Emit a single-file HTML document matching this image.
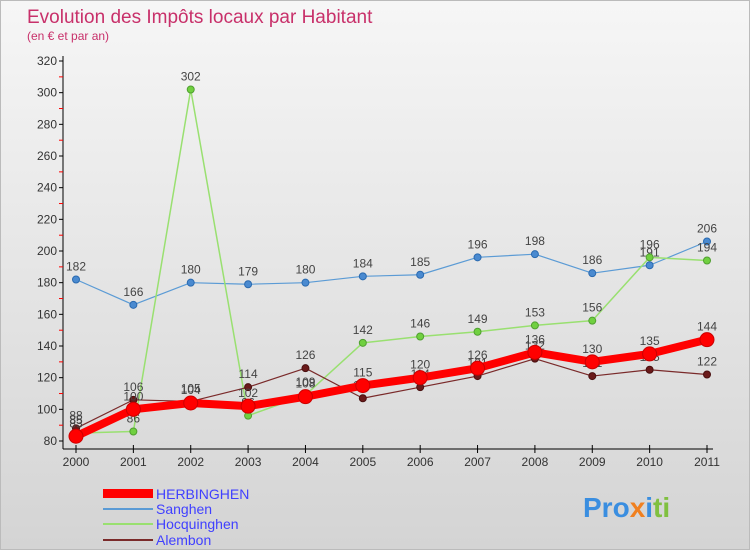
<!DOCTYPE html>
<html><head><meta charset="utf-8"><style>
body{margin:0;width:750px;height:550px;overflow:hidden;font-family:"Liberation Sans",sans-serif}
#wrap{position:relative;width:748px;height:548px;border:1px solid #bbb;background:linear-gradient(#f6f6f6,#d4d4d4)}
</style></head><body>
<div id="wrap">
<svg id="c" width="748" height="548">
<text x="26" y="22" font-size="19" fill="#c8306a">Evolution des Impôts locaux par Habitant</text>
<text x="26" y="39" font-size="12" fill="#c8306a">(en € et par an)</text>
<g id="axes"></g><g id="series"></g>
<g font-size="14" fill="#4040ff">
<rect x="102" y="488" width="50" height="9" fill="#ff0000"/>
<text x="155" y="498">HERBINGHEN</text>
<rect x="102" y="507" width="50" height="2" fill="#5b9bd5"/>
<text x="155" y="513">Sanghen</text>
<rect x="102" y="522" width="50" height="2" fill="#99e070"/>
<text x="155" y="528">Hocquinghen</text>
<rect x="102" y="538" width="50" height="2" fill="#7a2a2a"/>
<text x="155" y="544">Alembon</text>
</g>
<text x="582" y="516" font-size="28" font-weight="bold" fill="#3a8ee0">Pro<tspan fill="#f08020">x</tspan><tspan fill="#3a8ee0">i</tspan><tspan fill="#80c040">ti</tspan></text>
</svg></div>
<script>
const years=[2000,2001,2002,2003,2004,2005,2006,2007,2008,2009,2010,2011];
const yTicks=[80,100,120,140,160,180,200,220,240,260,280,300,320];
const herbinghen=[83,100,104,102,108,115,120,126,136,130,135,144];
const sanghen=[182,166,180,179,180,184,185,196,198,186,191,206];
const hocquinghen=[85,86,302,96,109,142,146,149,153,156,196,194];
const alembon=[88,106,105,114,126,107,114,121,132,121,125,122];
const NS="http://www.w3.org/2000/svg";
const xS=i=>75+i*(706-75)/11;
const yS=v=>440-(v-80)*(380/240);
function mk(t,a,p){const e=document.createElementNS(NS,t);for(const k in a)e.setAttribute(k,a[k]);p.appendChild(e);return e;}
const ax=document.getElementById('axes');
const yl=mk('line',{x1:62,y1:55,x2:62,y2:448,stroke:'#000'},ax);


const xl=mk('line',{x1:62,y1:448,x2:712,y2:448,stroke:'#000'},ax);


yTicks.forEach((v,i)=>{const y=yS(v);
mk('line',{x1:58,y1:y,x2:62,y2:y,stroke:'#000'},ax);
if(i<yTicks.length-1)mk('line',{x1:58,y1:y-15.8,x2:62,y2:y-15.8,stroke:'#f00'},ax);
const t=mk('text',{x:56,y:y+4,'font-size':12,'text-anchor':'end',fill:'#333'},ax);t.textContent=v;

});
years.forEach((yr,i)=>{const x=xS(i);
mk('line',{x1:x,y1:444,x2:x,y2:452,stroke:'#000'},ax);
const t=mk('text',{x:x,y:465,'font-size':12,'text-anchor':'middle',fill:'#333'},ax);t.textContent=yr;

});
const sg=document.getElementById('series');
function draw(name,vals,color,w,r,lab){
const g=mk('g',{},sg);


mk('polyline',{points:vals.map((v,i)=>xS(i)+','+yS(v)).join(' '),fill:'none',stroke:color,'stroke-width':w,'stroke-linejoin':'round'},g);
vals.forEach((v,i)=>{const c=mk('circle',{cx:xS(i),cy:yS(v),r:r,fill:lab.fill,stroke:lab.stroke,'stroke-width':1},g);


const t=mk('text',{x:xS(i),y:yS(v)-9,'font-size':12,'text-anchor':'middle',fill:'#444'},g);t.textContent=v;

});}
draw('sanghen',sanghen,'#5b9bd5',1.2,3.5,{fill:'#4a8ad0',stroke:'#2a6ab0'});
draw('hocquinghen',hocquinghen,'#99e070',1.5,3.5,{fill:'#70d040',stroke:'#50a030'});
draw('alembon',alembon,'#7a2a2a',1.2,3.5,{fill:'#6a1a1a',stroke:'#4a1010'});
draw('herbinghen',herbinghen,'#ff0000',8,7,{fill:'#ff0000',stroke:'#cc0000'});
</script></body></html>
